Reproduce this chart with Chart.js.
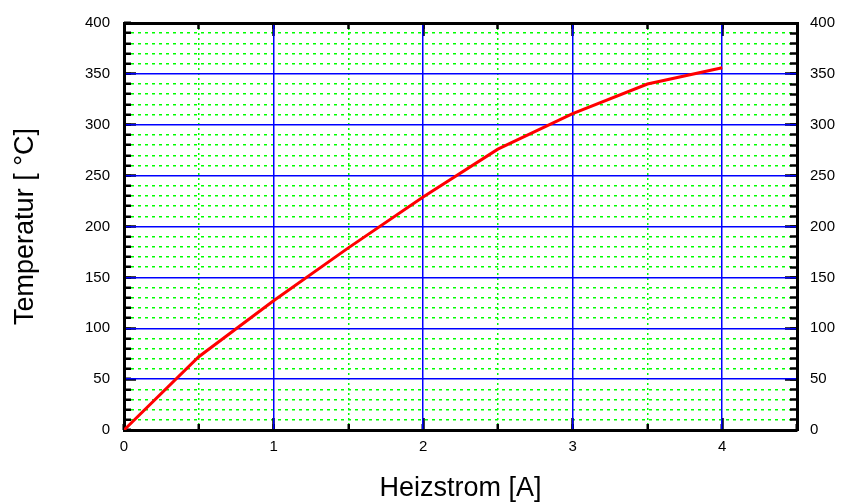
<!DOCTYPE html>
<html>
<head>
<meta charset="utf-8">
<script src="https://cdn.jsdelivr.net/npm/chart.js@4/dist/chart.umd.min.js"></script>
<style>
html,body{margin:0;padding:0;background:#fff;}
canvas{display:block;}
</style>
</head>
<body>
<canvas id="c" width="846" height="502"></canvas>
<script>
// ---- data ----
const currents = [0, 0.5, 1, 1.5, 2, 2.5, 3, 3.5, 4];
const temperatures = [0, 72, 127, 179, 229, 276, 311, 340, 356];
const xTickLabels = ['0', '1', '2', '3', '4'];
const yTickLabels = ['0', '50', '100', '150', '200', '250', '300', '350', '400'];
const xTitle = 'Heizstrom [A]';
const yTitle = 'Temperatur [ °C]';

// ---- styling ----
const FONT = "'Liberation Sans', Arial, Helvetica, sans-serif";
const BLUE = '#0000ff';
const GREEN = '#00ff00';
const BLACK = '#000000';
const NONE = 'rgba(0,0,0,0)';
const X_MIN = 0, X_MAX = 4.5, Y_MIN = 0, Y_MAX = 400;

function tickAxis(axis, pos, step, len, opts) {
  opts = opts || {};
  const isX = axis === 'x';
  return {
    type: 'linear', axis: axis, position: pos,
    min: isX ? X_MIN : Y_MIN, max: isX ? X_MAX : Y_MAX,
    ticks: { stepSize: step, display: false, autoSkip: false, includeBounds: false },
    grid: {
      drawOnChartArea: !!opts.gridColor,
      color: opts.gridColor || NONE,
      lineWidth: opts.gridWidth || 1,
      drawTicks: true,
      tickLength: len,
      tickColor: BLACK,
      tickWidth: 2.5,
      z: opts.z !== undefined ? opts.z : -2
    },
    border: opts.border || { display: false, dash: opts.dash || [] }
  };
}

const points = currents.map((c, i) => ({ x: c, y: temperatures[i] }));

new Chart(document.getElementById('c'), {
  type: 'line',
  data: {
    datasets: [{
      data: points,
      borderColor: '#ff0000',
      borderWidth: 3,
      pointRadius: 0,
      tension: 0,
      fill: false
    }]
  },
  options: {
    responsive: false,
    animation: false,
    devicePixelRatio: 1,
    layout: { padding: { top: 21, left: 0, right: 0, bottom: 0 } },
    plugins: { legend: { display: false }, tooltip: { enabled: false } },
    scales: {
      // minor grid + minor ticks (drawn first)
      xMinB: tickAxis('x', { y: 0 }, 0.5, -6, {
        gridColor: ctx => Number.isInteger(ctx.tick.value) ? NONE : GREEN,
        gridWidth: 1.5,
        dash: [2, 3]
      }),
      yMinL: tickAxis('y', { x: 0 }, 10, -7, {
        gridColor: ctx => (ctx.tick.value % 50 === 0) ? NONE : GREEN,
        gridWidth: 1.5,
        dash: [3, 4]
      }),
      xMinT: tickAxis('x', { y: Y_MAX }, 0.5, 6),
      yMinR: tickAxis('y', { x: X_MAX }, 10, 7),
      // major ticks
      xMajB: tickAxis('x', { y: 0 }, 1, -12, { z: -1 }),
      yMajL: tickAxis('y', { x: 0 }, 50, -12, { z: -1 }),
      xMajT: tickAxis('x', { y: Y_MAX }, 1, 11, { z: -1, border: { display: true, color: BLACK, width: 3 } }),
      yMajR: tickAxis('y', { x: X_MAX }, 50, 12, { z: -1 }),
      // labelled axes with major blue grid
      x: {
        type: 'linear', position: 'bottom', min: X_MIN, max: X_MAX,
        ticks: {
          stepSize: 1, includeBounds: false, autoSkip: false, maxRotation: 0,
          padding: 8, color: BLACK, font: { family: FONT, size: 15 },
          callback: (v, i) => (xTickLabels[i] !== undefined ? xTickLabels[i] : '')
        },
        grid: { color: BLUE, lineWidth: 1.5, drawTicks: false, z: -1 },
        border: { color: BLACK, width: 3 },
        title: { display: true, text: xTitle, color: BLACK, font: { family: FONT, size: 27 }, padding: { top: 0, bottom: -3 } },
        afterFit: s => { s.height = 72; }
      },
      y: {
        type: 'linear', position: 'left', min: Y_MIN, max: Y_MAX,
        ticks: {
          stepSize: 50, autoSkip: false, padding: 14, color: BLACK,
          font: { family: FONT, size: 15 },
          callback: (v, i) => (yTickLabels[i] !== undefined ? yTickLabels[i] : '')
        },
        grid: { color: BLUE, lineWidth: 1.5, drawTicks: false, z: -1 },
        border: { color: BLACK, width: 3 },
        title: { display: true, text: yTitle, color: BLACK, font: { family: FONT, size: 27 }, padding: { top: 9, bottom: 0 } },
        afterFit: s => { s.width = 124; }
      },
      y2: {
        type: 'linear', position: 'right', min: Y_MIN, max: Y_MAX,
        ticks: {
          stepSize: 50, autoSkip: false, padding: 13, color: BLACK,
          font: { family: FONT, size: 15 },
          callback: (v, i) => (yTickLabels[i] !== undefined ? yTickLabels[i] : '')
        },
        grid: { drawOnChartArea: false, drawTicks: false },
        border: { color: BLACK, width: 3 },
        afterFit: s => { s.width = 49; }
      }
    }
  }
});
</script>
</body>
</html>
